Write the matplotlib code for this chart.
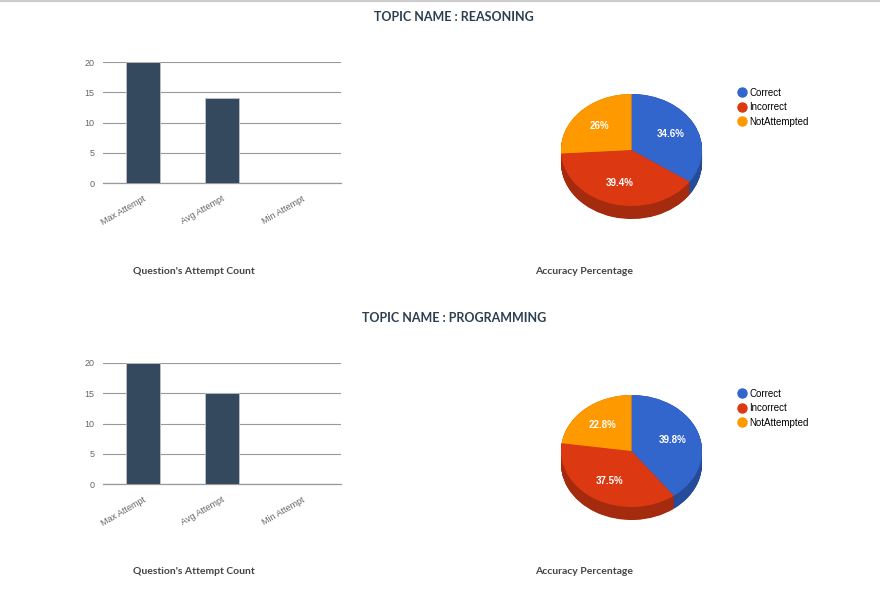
import numpy as np
import matplotlib
matplotlib.use('Agg')
import matplotlib.pyplot as plt
from matplotlib.lines import Line2D

W, H = 880, 600

# data
topics = ['REASONING', 'PROGRAMMING']
attempt_labels = ['Max Attempt', 'Avg Attempt', 'Min Attempt']
attempt_counts = [[20, 14, 0], [20, 15, 0]]
pie_labels = ['Correct', 'Incorrect', 'NotAttempted']
pie_values = [[34.6, 39.4, 26.0], [39.8, 37.5, 22.8]]

top_colors = ['#3366cc', '#dc3912', '#ff9900']
side_colors = ['#264c99', '#a52b0e', '#bf7200']
bar_color = '#34495e'
title_color = '#2c3e50'

plt.rcParams['font.family'] = ['Liberation Sans', 'DejaVu Sans']


def px_axes(fig, x0, y0, x1, y1):
    return fig.add_axes([x0 / W, 1 - y1 / H, (x1 - x0) / W, (y1 - y0) / H])


def fmt_pct(p):
    s = f'{p:.1f}'
    if s.endswith('.0'):
        s = s[:-2]
    return s + '%'


fig = plt.figure(figsize=(W / 100, H / 100), dpi=100)
fig.add_artist(Line2D([0, 1], [1 - 0.8 / H] * 2, transform=fig.transFigure,
                      color='#cccccc', lw=1.6))

for i, topic in enumerate(topics):
    off = i * 301

    fig.text(454 / W, 1 - (17 + off) / H, f'TOPIC NAME : {topic}',
             ha='center', va='center', fontsize=9, fontweight='bold',
             family='Lato', color=title_color)

    # bar chart
    ax = px_axes(fig, 103, 62 + off, 341, 183.3 + off)
    x = np.arange(len(attempt_labels))
    ax.bar(x, attempt_counts[i], width=0.43, color=bar_color,
           edgecolor='#c0c4c8', linewidth=0.6, zorder=3)
    ax.set_xlim(-0.5, len(attempt_labels) - 0.5)
    ax.set_ylim(0, 20)
    ax.set_yticks([0, 5, 10, 15, 20])
    ax.grid(axis='y', color='#999999', lw=0.8, zorder=0)
    ax.axhline(0, color='#999999', lw=0.9, zorder=2, clip_on=False)
    for s in ax.spines.values():
        s.set_visible(False)
    ax.tick_params(length=0, colors='#666666', labelsize=6.5, pad=6)
    ax.set_xticks(x)
    ax.set_xticklabels(attempt_labels, rotation=30, ha='right',
                       rotation_mode='anchor')
    ax.tick_params(axis='x', pad=8)
    fig.text(194 / W, 1 - (271 + off) / H, "Question's Attempt Count",
             ha='center', va='center', fontsize=7.5, fontweight='bold',
             family='Lato', color='#444444')

    # 3d-looking pie
    pa = px_axes(fig, 561, 94 + off, 702, 219 + off)
    depth = 0.232
    for d in np.linspace(depth, 0.0, 30):
        pa.pie(pie_values[i], colors=side_colors, startangle=90,
               counterclock=False, center=(0, -d),
               wedgeprops=dict(linewidth=0))
    wedges, _, autotexts = pa.pie(
        pie_values[i], colors=top_colors, startangle=90, counterclock=False,
        autopct=fmt_pct, pctdistance=0.62,
        wedgeprops=dict(linewidth=0),
        textprops=dict(color='white', fontsize=7, fontweight='bold'))
    pa.set_aspect('auto')
    pa.set_xlim(-1, 1)
    pa.set_ylim(-1 - depth, 1)
    pa.axis('off')

    handles = [Line2D([], [], marker='o', ls='', markersize=6.5,
                      markerfacecolor=c, markeredgecolor=c) for c in top_colors]
    fig.legend(handles, pie_labels, loc='upper left',
               bbox_to_anchor=(732 / W, 1 - (84 + off) / H),
               frameon=False, fontsize=7, handletextpad=0.2,
               labelspacing=0.45, borderaxespad=0, handlelength=1.2)

    fig.text(584 / W, 1 - (271 + off) / H, 'Accuracy Percentage',
             ha='center', va='center', fontsize=7.5, fontweight='bold',
             family='Lato', color='#444444')

fig.savefig('out.png', dpi=100, facecolor='white')
